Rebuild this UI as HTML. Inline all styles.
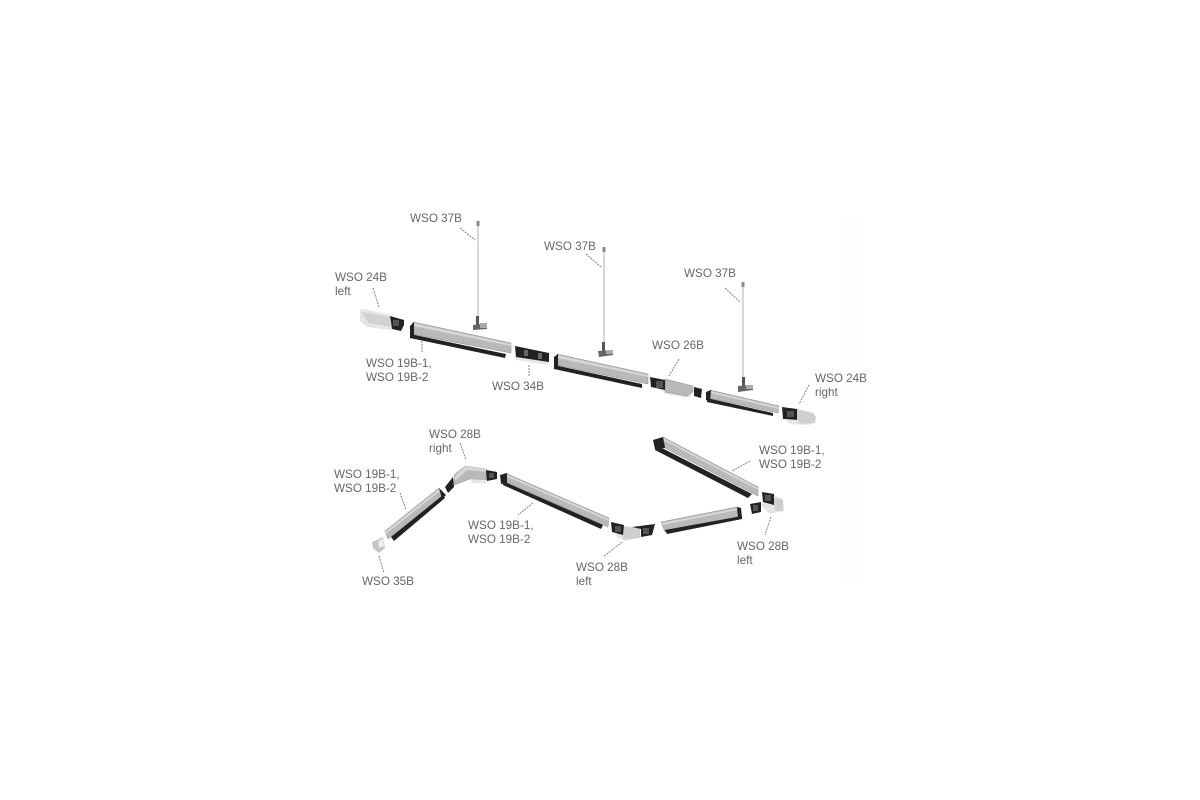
<!DOCTYPE html>
<html><head><meta charset="utf-8"><style>
html,body{margin:0;padding:0;background:#fff;width:1200px;height:800px;overflow:hidden}
svg{display:block}
text{font-family:"Liberation Sans",sans-serif;font-size:11.7px;fill:#666}
.l{stroke:#777;stroke-width:.9;stroke-dasharray:2 1;fill:none}
.b{fill:#b9b9b7;stroke:#8a8a8a;stroke-width:.5}.h{fill:#d6d6d4}.w{fill:#e6e6e4}.k{fill:#222}.d{fill:#4a4a4a}.r{stroke:#b0b0b0;stroke-width:1;fill:none}
</style></head><body>
<svg width="1200" height="800" viewBox="0 0 1200 800" xmlns="http://www.w3.org/2000/svg">
<rect x="840" y="215" width="25" height="365" fill="#fdfefe"/>

<!-- top row: end cap left -->
<polygon class="w" points="360,310 364,309 390,315 392,330 367,327 360,321"/>
<polygon fill="#d2d2d0" points="362,312 390,317 390,327 368,323"/>
<polygon class="k" points="390,316 404,320 404,325 401,331 392,329"/>
<rect x="393" y="320" width="6" height="6" fill="#555"/>

<!-- rail 1 -->
<polygon class="b" points="413,322 511,343 511,353 412,334"/>
<polygon class="h" points="413,323 511,344 511,346 413,326"/>
<polygon class="k" points="410,334 506,354 505,358 410,338"/>
<polygon class="k" points="410,326 414,322 414,335 410,337"/>

<!-- connector 34B -->
<polygon class="w" points="515,355 548,361 548,365 516,360"/>
<polygon class="k" points="515,346 549,353 549,362 516,357"/>
<rect x="524" y="350" width="4" height="6" fill="#666"/>
<rect x="538" y="353" width="4" height="6" fill="#666"/>

<!-- rail 2 -->
<polygon class="b" points="557,354 648,374 648,384 556,365"/>
<polygon class="h" points="557,355 648,375 648,377 557,358"/>
<polygon class="k" points="554,365 642,384 642,388 554,369"/>
<polygon class="k" points="554,357 558,354 558,367 554,369"/>

<!-- 26B -->
<polygon class="w" points="660,388 692,395 688,398 665,394"/>
<polygon class="b" points="665,379 693,386 693,392 687,396 665,392"/>
<polygon class="k" points="650,377 665,380 665,390 651,387"/>
<rect x="656" y="381" width="7" height="7" fill="#555"/>
<polygon class="k" points="694,387 702,389 701,398 694,396"/>

<!-- rail 3 -->
<polygon class="b" points="710,390 779,406 778,413 709,398"/>
<polygon class="h" points="710,391 779,407 779,409 710,393"/>
<polygon class="k" points="707,398 773,413 773,416 707,402"/>
<polygon class="k" points="706,392 711,390 710,401 706,400"/>

<!-- end cap right -->
<polygon class="k" points="782,407 797,409 797,420 783,419"/>
<rect x="787" y="411" width="7" height="6" fill="#555"/>
<polygon fill="#cfcfcd" points="797,409 813,413 816,417 815,423 800,424 797,420"/>
<polygon class="w" points="785,419 797,420 800,424 815,423 808,425 790,424"/>

<!-- hangers -->
<path class="r" d="M478,222V317"/><rect x="476.500" y="221" width="3" height="5" fill="#888"/>
<rect x="476" y="316" width="3" height="9" fill="#555"/>
<polygon fill="#666" points="473,325 487,323 487,329 473,330"/>
<polygon fill="#aaa" points="480,323 487,323 487,328 480,328"/>

<path class="r" d="M604,248V343"/><rect x="602.500" y="247" width="3" height="5" fill="#888"/>
<rect x="602" y="342" width="3" height="9" fill="#555"/>
<polygon fill="#666" points="598,351 613,350 613,355 599,357"/>
<polygon fill="#aaa" points="606,350 613,350 613,354 606,354"/>

<path class="r" d="M743,283V377"/><rect x="741.500" y="282" width="3" height="5" fill="#888"/>
<rect x="742" y="377" width="3" height="9" fill="#555"/>
<polygon fill="#666" points="738,386 753,385 753,390 738,392"/>
<polygon fill="#aaa" points="746,385 753,385 753,389 746,389"/>

<!-- bottom: 35B -->
<polygon fill="#c9c4c2" points="372,542 383,537 385,548 379,553 373,548"/>
<polygon fill="#eee" points="378,541 383,539 384,546 379,548"/>

<!-- rail up-left -->
<polygon class="b" points="385,531 439,488 443,497 388,539"/>
<polygon class="h" points="385,532 439,489 440,491 386,534"/>
<polygon class="k" points="391,537 443,495 445,498 394,541"/>
<polygon class="k" points="439,488 446,495 442,499"/>

<!-- 28B right -->
<polygon class="k" points="445,487 453,477 454,487 448,493"/>
<polygon class="b" points="454,475 465,466 486,469 487,480 470,479 454,485"/>
<polygon class="h" points="454,477 465,466 486,469 486,472 467,470 455,481"/>
<polygon class="w" points="470,479 487,480 487,483 472,483"/>
<polygon class="k" points="486,470 497,472 497,479 487,481"/>
<rect x="489" y="473" width="5" height="5" fill="#555"/>

<!-- rail to right -->
<polygon class="b" points="505,473 609,518 608,527 507,482"/>
<polygon class="h" points="505,474 609,519 609,521 505,476"/>
<polygon class="k" points="503,481 603,525 601,529 503,485"/>
<polygon class="k" points="500,475 507,473 507,483 501,484"/>

<!-- 28B left lower -->
<polygon class="w" points="615,532 640,537 626,541 617,537"/>
<polygon fill="#cfcfcd" points="623,526 640,528 640,538 623,540"/>
<polygon class="k" points="611,522 624,525 623,535 612,532"/>
<rect x="615" y="526" width="6" height="6" fill="#555"/>
<polygon class="k" points="632,527 655,524 652,535 641,537 641,529"/>
<rect x="643" y="528" width="6" height="6" fill="#555"/>

<!-- rail lower right -->
<polygon class="b" points="661,522 737,507 742,517 665,532"/>
<polygon class="h" points="662,523 737,508 738,510 662,525"/>
<polygon class="k" points="665,530 742,516 742,519 667,534"/>
<polygon class="k" points="737,507 741,508 742,518 738,518"/>

<!-- rail upper -->
<polygon class="b" points="663,437 758,487 758,496 665,448"/>
<polygon class="h" points="663,438 758,488 758,490 663,440"/>
<polygon class="k" points="656,445 752,494 748,498 655,450"/>
<polygon class="k" points="653,440 663,437 665,448 655,449"/>

<!-- 28B left, right side -->
<polygon class="w" points="760,505 774,495 783,499 784,511 770,514"/>
<polygon fill="#cfcfcd" points="774,498 783,500 783,511 775,511"/>
<polygon class="k" points="762,492 774,494 774,505 763,502"/>
<rect x="765" y="495" width="6" height="6" fill="#555"/>
<polygon class="k" points="750,504 761,502 761,512 752,514"/>
<rect x="753" y="505" width="5" height="6" fill="#555"/>

<!-- leaders -->
<path class="l" d="M460,228L475,240"/>
<path class="l" d="M373,288L379,307"/>
<path class="l" d="M422,341V353"/>
<path class="l" d="M529,365V377"/>
<path class="l" d="M586,254L601,267"/>
<path class="l" d="M725,288L740,302"/>
<path class="l" d="M679,359L669,376"/>
<path class="l" d="M809,385L799,404"/>
<path class="l" d="M460,443L466,460"/>
<path class="l" d="M400,493L406,510"/>
<path class="l" d="M533,503L518,515"/>
<path class="l" d="M379,556L384,573"/>
<path class="l" d="M622,542L603,557"/>
<path class="l" d="M750,461L732,471"/>
<path class="l" d="M771,517L765,535"/>

<!-- labels -->
<text x="410" y="222">WSO 37B</text>
<text x="544" y="250">WSO 37B</text>
<text x="684" y="277">WSO 37B</text>
<text x="335" y="281">WSO 24B</text>
<text x="335" y="295">left</text>
<text x="366" y="367">WSO 19B-1,</text>
<text x="366" y="381">WSO 19B-2</text>
<text x="492" y="390">WSO 34B</text>
<text x="652" y="349">WSO 26B</text>
<text x="815" y="382">WSO 24B</text>
<text x="815" y="396">right</text>
<text x="429" y="438">WSO 28B</text>
<text x="429" y="452">right</text>
<text x="334" y="478">WSO 19B-1,</text>
<text x="334" y="492">WSO 19B-2</text>
<text x="468" y="529">WSO 19B-1,</text>
<text x="468" y="543">WSO 19B-2</text>
<text x="362" y="585">WSO 35B</text>
<text x="576" y="571">WSO 28B</text>
<text x="576" y="585">left</text>
<text x="759" y="454">WSO 19B-1,</text>
<text x="759" y="468">WSO 19B-2</text>
<text x="737" y="550">WSO 28B</text>
<text x="737" y="564">left</text>
</svg>
</body></html>
